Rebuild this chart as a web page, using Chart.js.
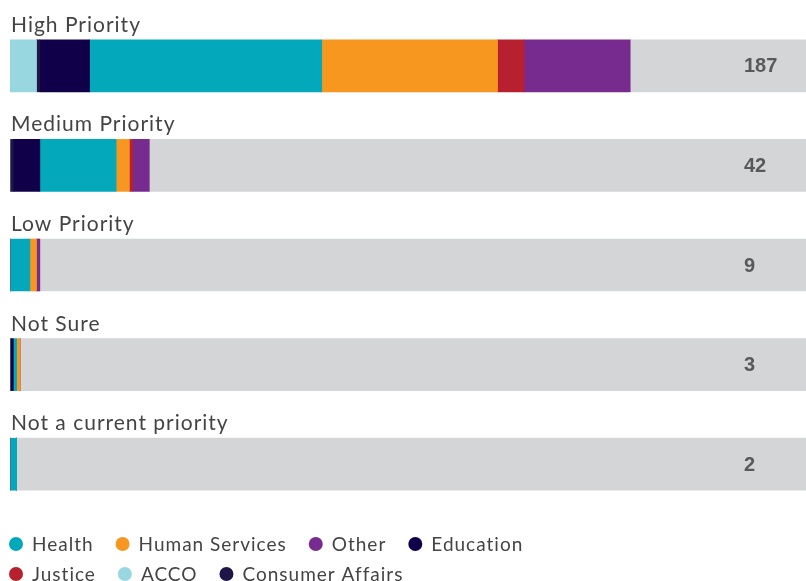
<!DOCTYPE html>
<html>
<head>
<meta charset="utf-8">
<script src="https://cdn.jsdelivr.net/npm/chart.js@4.4.1/dist/chart.umd.min.js"></script>
<style>
  html, body { margin: 0; padding: 0; background: #fff; }
  #wrap { width: 806px; height: 581px; position: relative; }
</style>
</head>
<body>
<div id="wrap"><canvas id="chart"></canvas></div>
<script>
// categories (one bar each)
const categories = ["High Priority", "Medium Priority", "Low Priority", "Not Sure", "Not a current priority"];

// series values, stacked in this order
const acco            = [8, 0, 0, 0, 0];
const consumerAffairs = [1, 1, 0, 0, 0];
const education       = [15, 8, 0, 1, 0];
const health          = [70, 23, 6, 1, 2];
const humanServices   = [53, 4, 2, 1, 0];
const justice         = [8, 1, 0, 0, 0];
const other           = [32, 5, 1, 0, 0];

const AXIS_MAX = 240;

// legend order as shown under the chart
const legendOrder = ["Health", "Human Services", "Other", "Education", "Justice", "ACCO", "Consumer Affairs"];

const series = [
  { label: "ACCO", data: acco, color: "#98d7df" },
  { label: "Consumer Affairs", data: consumerAffairs, color: "#201547" },
  { label: "Education", data: education, color: "#10004a" },
  { label: "Health", data: health, color: "#03a9bb" },
  { label: "Human Services", data: humanServices, color: "#f7971f" },
  { label: "Justice", data: justice, color: "#b7202e" },
  { label: "Other", data: other, color: "#772b8f" }
];

const totals = categories.map((_, i) => series.reduce((s, d) => s + d.data[i], 0));
const remainder = totals.map(t => AXIS_MAX - t);

const datasets = series.map(s => ({
  label: s.label, data: s.data, backgroundColor: s.color,
  borderWidth: 0, barThickness: 52, stack: "a"
}));
datasets.push({
  label: "_rest", data: remainder, backgroundColor: "#d4d5d7",
  borderWidth: 0, barThickness: 52, stack: "a"
});

// category titles above each bar + totals inside the grey part
const labelsPlugin = {
  id: "barLabels",
  afterDatasetsDraw(chart) {
    const ctx = chart.ctx;
    const yScale = chart.scales.y;
    const xScale = chart.scales.x;
    ctx.save();
    categories.forEach((cat, i) => {
      const yc = yScale.getPixelForValue(i);
      ctx.font = "21px Lato, 'Noto Sans', sans-serif";
      ctx.letterSpacing = "1px";
      ctx.fillStyle = "#444";
      ctx.textAlign = "left";
      ctx.textBaseline = "alphabetic";
      ctx.fillText(cat, xScale.left + 1, yc - 34);

      ctx.font = "bold 20px 'Liberation Sans', Arial, sans-serif";
      ctx.letterSpacing = "0px";
      ctx.fillStyle = "#58595b";
      ctx.textBaseline = "middle";
      ctx.fillText(String(totals[i]), 744, yc + 1);
    });
    ctx.restore();
  }
};

// two-row legend under the chart
const legendPlugin = {
  id: "bottomLegend",
  afterDraw(chart) {
    const ctx = chart.ctx;
    ctx.save();
    ctx.font = "19px Lato, 'Noto Sans', sans-serif";
    ctx.letterSpacing = "1px";
    ctx.textBaseline = "middle";
    const maxRight = 540;
    let x = 9, y = 544;
    legendOrder.forEach(name => {
      const s = series.find(d => d.label === name);
      const w = 23 + ctx.measureText(name).width;
      if (x + w > maxRight) { x = 9; y += 30; }
      ctx.fillStyle = s.color;
      ctx.beginPath();
      ctx.arc(x + 7, y, 7, 0, Math.PI * 2);
      ctx.fill();
      ctx.fillStyle = "#444";
      ctx.fillText(name, x + 23, y + 1);
      x += w + 22;
    });
    ctx.restore();
  }
};

new Chart(document.getElementById("chart"), {
  type: "bar",
  data: { labels: categories, datasets: datasets },
  options: {
    indexAxis: "y",
    responsive: true,
    maintainAspectRatio: false,
    animation: false,
    layout: { padding: { left: 10, right: 0, top: 16, bottom: 67 } },
    plugins: { legend: { display: false }, tooltip: { enabled: false } },
    scales: {
      x: { stacked: true, min: 0, max: AXIS_MAX, display: false },
      y: { stacked: true, display: false }
    }
  },
  plugins: [labelsPlugin, legendPlugin]
});
</script>
</body>
</html>
